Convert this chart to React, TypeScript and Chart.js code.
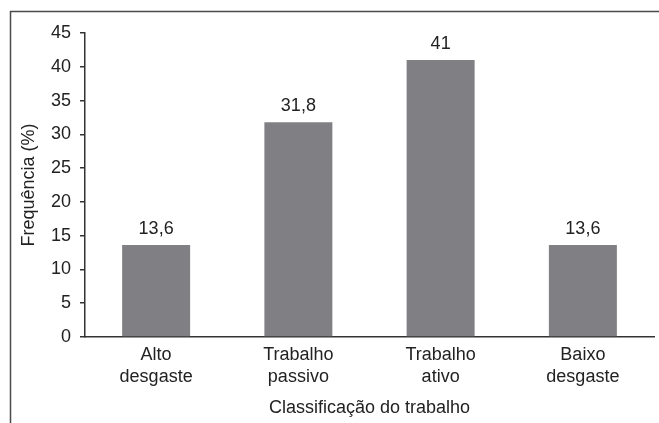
import React, { useEffect, useRef } from "react";
import { Chart, registerables } from "chart.js";

Chart.register(...registerables);

const categories: string[][] = [
  ["Alto", "desgaste"],
  ["Trabalho", "passivo"],
  ["Trabalho", "ativo"],
  ["Baixo", "desgaste"],
];
const frequencies: number[] = [13.6, 31.8, 41, 13.6];
const yTitle = "Frequência (%)";
const xTitle = "Classificação do trabalho";

const FONT = "'Liberation Sans', Arial, Helvetica, sans-serif";
const FS = 18;

const framePlugin = {
  id: "frame",
  beforeDraw(chart: any) {
    const ctx = chart.ctx;
    ctx.save();
    ctx.strokeStyle = "#4a4a4a";
    ctx.lineWidth = 1.5;
    ctx.beginPath();
    ctx.moveTo(10, 11.5);
    ctx.lineTo(chart.width, 11.5);
    ctx.moveTo(10.5, 11);
    ctx.lineTo(10.5, chart.height);
    ctx.stroke();
    ctx.restore();
  },
};

const valueLabels = {
  id: "valueLabels",
  afterDatasetsDraw(chart: any) {
    const ctx = chart.ctx;
    const meta = chart.getDatasetMeta(0);
    ctx.save();
    ctx.font = `${FS}px ${FONT}`;
    ctx.fillStyle = "#222";
    ctx.textAlign = "center";
    ctx.textBaseline = "alphabetic";
    meta.data.forEach((bar: any, i: number) => {
      const v = frequencies[i];
      ctx.fillText(String(v).replace(".", ","), bar.x, bar.y - 11);
    });
    ctx.restore();
  },
};

export default function App() {
  const ref = useRef<HTMLCanvasElement>(null);
  useEffect(() => {
    if (!ref.current) return;
    const chart = new Chart(ref.current, {
      type: "bar",
      data: {
        labels: categories,
        datasets: [
          {
            data: frequencies,
            backgroundColor: "#808084",
            borderWidth: 0,
            categoryPercentage: 1,
            barPercentage: 0.478,
          },
        ],
      },
      options: {
        responsive: false,
        animation: false,
        layout: { padding: { left: 0, right: 5, top: 33, bottom: 0 } },
        plugins: {
          legend: { display: false },
          tooltip: { enabled: false },
          title: { display: false },
        },
        scales: {
          x: {
            grid: { display: false, drawTicks: false },
            border: { display: true, color: "#333", width: 1.5 },
            ticks: {
              color: "#222",
              font: { family: FONT, size: FS, lineHeight: 1.17 },
              padding: 8,
              maxRotation: 0,
              autoSkip: false,
            },
            title: {
              display: true,
              text: xTitle,
              color: "#222",
              font: { family: FONT, size: FS },
              padding: { top: 0, bottom: 4 },
            },
            afterFit(scale: any) {
              scale.height = 86;
            },
          },
          y: {
            min: 0,
            max: 45,
            grid: {
              drawOnChartArea: false,
              drawTicks: true,
              tickLength: 5,
              color: "#333",
              lineWidth: 1.5,
            },
            border: { display: true, color: "#333", width: 1.5 },
            ticks: {
              stepSize: 5,
              color: "#222",
              font: { family: FONT, size: FS },
              padding: 9,
            },
            title: {
              display: true,
              text: yTitle,
              color: "#222",
              font: { family: FONT, size: FS },
              padding: { top: 18, bottom: 0 },
            },
            afterFit(scale: any) {
              scale.width = 85;
            },
          },
        },
      },
      plugins: [framePlugin, valueLabels],
    });
    return () => chart.destroy();
  }, []);
  return (
    <div style={{ position: "absolute", left: 0, top: 0, width: 659, height: 423 }}>
      <canvas ref={ref} width={659} height={423} />
    </div>
  );
}
